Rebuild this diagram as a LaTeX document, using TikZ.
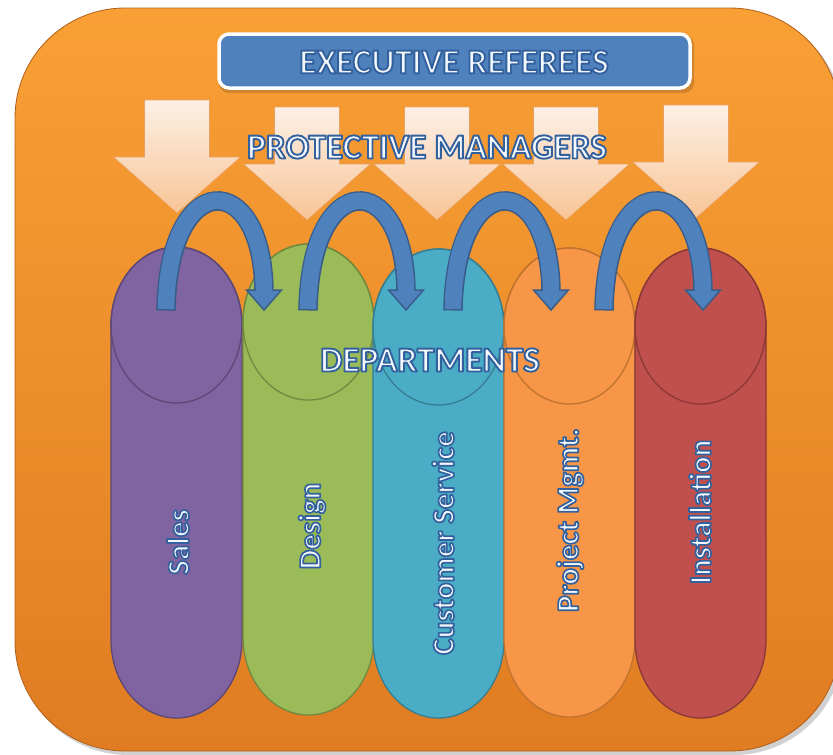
\documentclass[tikz,border=0pt]{standalone}
\usepackage{fontspec}
\setmainfont{Carlito}
\usetikzlibrary{calc}

% palette
\definecolor{bgtop}{HTML}{F9A035}
\definecolor{bgbot}{HTML}{E07C22}
\definecolor{bgedge}{HTML}{B0601A}
\definecolor{execfill}{HTML}{4F81BD}
\definecolor{arcfill}{HTML}{4F81BD}
\definecolor{arcedge}{HTML}{385D8A}
\definecolor{txtfill}{HTML}{F4F8FD}
\definecolor{pktop}{HTML}{FDF0E6}
\definecolor{pkbot}{HTML}{F8C596}
\definecolor{pkedge}{HTML}{E9A163}
\definecolor{purpfill}{HTML}{8064A2}
\definecolor{purpline}{HTML}{5C4776}
\definecolor{grnfill}{HTML}{9BBB59}
\definecolor{grnline}{HTML}{71893F}
\definecolor{aquafill}{HTML}{4BACC6}
\definecolor{aqualine}{HTML}{357D91}
\definecolor{orgfill}{HTML}{F79646}
\definecolor{orgline}{HTML}{C0722F}
\definecolor{redfill}{HTML}{C0504D}
\definecolor{redline}{HTML}{8C3836}

% light lettering with a thin blue outline (fill + stroke text render mode)
\newcommand\outlinedtext[2][1.9]{%
  \special{pdf:code 2 Tr #1 w 1 j 0.20 0.38 0.62 RG}#2\special{pdf:code 0 Tr}}

\tikzset{
  titletext/.style={text=txtfill, font=\bfseries\fontsize{35.3}{41}\selectfont, inner sep=0pt},
  deptlabel/.style={text=txtfill, font=\bfseries\fontsize{31}{37}\selectfont, inner sep=0pt, rotate=90},
  execbox/.style={fill=execfill, draw=white, line width=3.5pt, rounded corners=10pt,
    minimum width=471pt, minimum height=54pt, inner sep=0pt},
  pillshape/.style={line width=1.3pt},
  dnarrow/.pic={
    \path[top color=pktop, bottom color=pkbot, draw=pkedge, line width=0.6pt]
      (-32.5,0) -- (32.5,0) -- (32.5,57) -- (63.5,57) -- (0,113)
      -- (-63.5,57) -- (-32.5,57) -- cycle;
  }
}

\begin{document}
\begin{tikzpicture}[x=1pt, y=-1pt]
\useasboundingbox (0,0) rectangle (833,755);

% panel with soft shadow
\fill[black, opacity=0.18, rounded corners=110pt] (18,12) rectangle (844,755);
\path[top color=bgtop, bottom color=bgbot, draw=bgedge, line width=0.8pt,
      rounded corners=110pt] (15,8) rectangle (840,751);

% executive bar
\fill[black, opacity=0.15, rounded corners=10pt] (219,35) rectangle (694,93);
\node[execbox] (exec) at (454.5,61) {};
\node[titletext] (exectext) at (454,62) {\outlinedtext{EXECUTIVE REFEREES}};

% downward arrows
\pic at (177,100) {dnarrow};
\pic at (307,107) {dnarrow};
\pic at (437,107) {dnarrow};
\pic at (566,107) {dnarrow};
\pic at (696,105) {dnarrow};

\node[titletext] (pm) at (427,147) {\outlinedtext{PROTECTIVE MANAGERS}};

% department columns
\foreach \L/\T/\B/\fc/\lc in {111/247/718/purpfill/purpline,
                               243/244/715/grnfill/grnline,
                               373/249/718/aquafill/aqualine,
                               504/248/717/orgfill/orgline,
                               635/248/718/redfill/redline}{
  \path[pillshape, fill=\fc, draw=\lc]
    (\L,\T+78) -- (\L,\B-78)
    arc[start angle=180, end angle=0, x radius=65.5, y radius=78]
    -- (\L+131,\T+78)
    arc[start angle=0, end angle=-180, x radius=65.5, y radius=78] -- cycle;
  \draw[pillshape, draw=\lc] (\L+65.5,\T+78) ellipse[x radius=65.5, y radius=78];
}

% curved hand-off arrows between neighbouring departments
\coordinate (t1) at (166,309);  \coordinate (h1) at (264,290);
\coordinate (t2) at (308,309);  \coordinate (h2) at (406,290);
\coordinate (t3) at (453,309);  \coordinate (h3) at (551,290);
\coordinate (t4) at (604,309);  \coordinate (h4) at (703,290);
\foreach \i in {1,...,4}{
  \draw[arcedge, line width=19.5pt, shorten <=-1.5pt]
    (t\i) .. controls ($(t\i)+(2,-141)$) and ($(h\i)+(-2,-122)$) .. (h\i);
  \draw[arcfill, line width=16.5pt]
    (t\i) .. controls ($(t\i)+(2,-141)$) and ($(h\i)+(-2,-122)$) .. (h\i);
  \fill[arcfill] ($(h\i)+(-17.5,0)$) -- ($(h\i)+(17.5,0)$) -- ($(h\i)+(0,20)$) -- cycle;
  \draw[arcedge, line width=1.5pt]
    ($(h\i)+(-8.25,0)$) -- ($(h\i)+(-17.5,0)$) -- ($(h\i)+(0,20)$)
    -- ($(h\i)+(17.5,0)$) -- ($(h\i)+(8.25,0)$);
}

\node[titletext] (dept) at (430,360) {\outlinedtext{DEPARTMENTS}};

% column labels
\node[deptlabel] (sales)   at (178,542) {\outlinedtext[1.7]{Sales}};
\node[deptlabel] (design)  at (312,526) {\outlinedtext[1.7]{Design}};
\node[deptlabel] (custsvc) at (443,543) {\outlinedtext[1.7]{Customer Service}};
\node[deptlabel] (projmg)  at (570,520) {\outlinedtext[1.7]{Project Mgmt.}};
\node[deptlabel] (install) at (700,512) {\outlinedtext[1.7]{Installation}};
\end{tikzpicture}
\end{document}
